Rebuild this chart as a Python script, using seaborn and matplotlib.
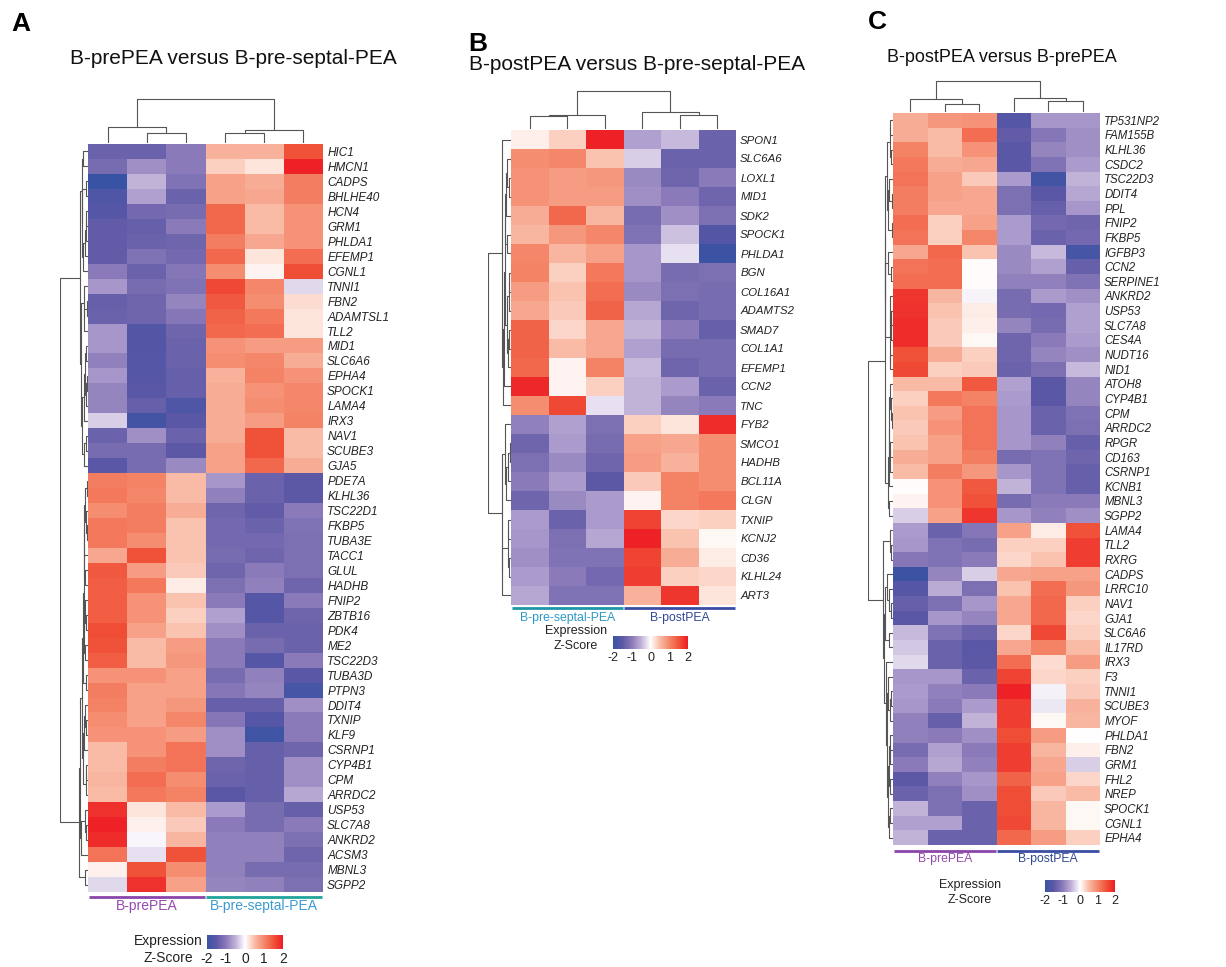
import numpy as np
import pandas as pd
import matplotlib
matplotlib.use("Agg")
import matplotlib.pyplot as plt
import matplotlib.transforms as mtransforms
from matplotlib.colors import LinearSegmentedColormap, Normalize
from matplotlib.cm import ScalarMappable
import seaborn as sns

sns.set_theme(style="white")
plt.rcParams['font.family'] = ['Liberation Sans', 'DejaVu Sans']
plt.rcParams['axes.unicode_minus'] = False

# ---------------- data ----------------
A_genes = ["HIC1", "HMCN1", "CADPS", "BHLHE40", "HCN4", "GRM1", "PHLDA1", "EFEMP1", "CGNL1",
           "TNNI1", "FBN2", "ADAMTSL1", "TLL2", "MID1", "SLC6A6", "EPHA4", "SPOCK1", "LAMA4",
           "IRX3", "NAV1", "SCUBE3", "GJA5", "PDE7A", "KLHL36", "TSC22D1", "FKBP5", "TUBA3E",
           "TACC1", "GLUL", "HADHB", "FNIP2", "ZBTB16", "PDK4", "ME2", "TSC22D3", "TUBA3D",
           "PTPN3", "DDIT4", "TXNIP", "KLF9", "CSRNP1", "CYP4B1", "CPM", "ARRDC2", "USP53",
           "SLC7A8", "ANKRD2", "ACSM3", "MBNL3", "SGPP2"]
A_values = [
    [-1.35, -1.35, -1.0, 0.6, 0.6, 1.5],
    [-1.2, -0.8, -1.0, 0.35, 0.2, 1.95],
    [-2.0, -0.5, -1.1, 0.75, 0.65, 1.1],
    [-1.7, -0.65, -1.35, 0.75, 0.7, 1.1],
    [-1.6, -1.25, -1.2, 1.3, 0.5, 0.9],
    [-1.45, -1.4, -1.0, 1.3, 0.5, 0.9],
    [-1.45, -1.35, -1.3, 1.1, 0.7, 0.9],
    [-1.45, -1.1, -1.25, 1.3, 0.2, 1.25],
    [-1.0, -1.35, -1.05, 0.95, 0.08, 1.55],
    [-0.75, -1.2, -1.1, 1.6, 1.0, -0.25],
    [-1.4, -1.3, -0.9, 1.45, 0.95, 0.25],
    [-1.35, -1.3, -1.05, 1.35, 1.15, 0.2],
    [-0.75, -1.65, -1.3, 1.3, 1.25, 0.2],
    [-0.75, -1.65, -1.35, 0.9, 0.8, 0.8],
    [-0.95, -1.6, -1.35, 0.95, 1.0, 0.65],
    [-0.75, -1.6, -1.4, 0.6, 1.05, 0.9],
    [-0.9, -1.55, -1.4, 0.65, 0.9, 1.0],
    [-0.9, -1.4, -1.7, 0.65, 0.95, 1.0],
    [-0.3, -1.85, -1.55, 0.65, 0.8, 1.05],
    [-1.35, -0.8, -1.35, 0.65, 1.5, 0.5],
    [-1.2, -1.2, -1.5, 0.75, 1.5, 0.5],
    [-1.55, -1.2, -0.85, 0.75, 1.3, 0.65],
    [1.1, 1.05, 0.5, -0.75, -1.35, -1.5],
    [1.15, 1.0, 0.5, -0.95, -1.35, -1.5],
    [0.95, 1.1, 0.65, -1.3, -1.45, -1.0],
    [1.15, 1.1, 0.45, -1.25, -1.35, -1.1],
    [1.15, 0.95, 0.45, -1.25, -1.25, -1.15],
    [0.7, 1.5, 0.45, -1.2, -1.3, -1.15],
    [1.45, 0.8, 0.4, -1.3, -1.0, -1.15],
    [1.4, 1.15, 0.15, -1.15, -0.95, -1.3],
    [1.4, 0.9, 0.45, -1.0, -1.6, -1.0],
    [1.4, 0.9, 0.35, -0.65, -1.6, -1.3],
    [1.55, 0.75, 0.45, -0.8, -1.35, -1.35],
    [1.5, 0.5, 0.8, -1.0, -1.2, -1.35],
    [1.4, 0.5, 0.85, -1.0, -1.6, -1.0],
    [0.9, 0.9, 0.75, -1.2, -0.95, -1.55],
    [1.1, 0.75, 0.75, -1.05, -0.9, -1.8],
    [1.05, 0.75, 0.85, -1.4, -1.4, -0.8],
    [0.95, 0.75, 1.0, -1.05, -1.6, -1.0],
    [0.9, 0.9, 0.8, -0.8, -1.9, -1.0],
    [0.5, 0.9, 1.2, -0.8, -1.4, -1.3],
    [0.5, 1.1, 1.2, -1.3, -1.4, -0.8],
    [0.55, 1.25, 0.95, -1.35, -1.4, -0.8],
    [0.5, 1.15, 1.05, -1.55, -1.4, -0.6],
    [1.8, 0.2, 0.5, -0.7, -1.2, -1.4],
    [1.95, 0.1, 0.4, -1.0, -1.2, -1.0],
    [1.85, -0.05, 0.55, -0.95, -0.95, -1.15],
    [1.2, -0.2, 1.5, -0.95, -0.95, -1.3],
    [0.1, 1.5, 0.95, -0.95, -1.2, -1.2],
    [-0.25, 1.8, 0.75, -0.9, -0.95, -1.15],
]

B_genes = ["SPON1", "SLC6A6", "LOXL1", "MID1", "SDK2", "SPOCK1", "PHLDA1", "BGN", "COL16A1",
           "ADAMTS2", "SMAD7", "COL1A1", "EFEMP1", "CCN2", "TNC", "FYB2", "SMCO1", "HADHB",
           "BCL11A", "CLGN", "TXNIP", "KCNJ2", "CD36", "KLHL24", "ART3"]
B_values = [
    [0.12, 0.35, 1.95, -0.65, -0.45, -1.35],
    [0.95, 1.0, 0.45, -0.3, -1.35, -1.35],
    [0.9, 0.8, 0.85, -0.85, -1.3, -1.0],
    [0.9, 0.8, 0.8, -0.8, -1.0, -1.3],
    [0.65, 1.3, 0.55, -1.2, -0.8, -1.15],
    [0.55, 0.85, 1.0, -1.1, -0.4, -1.65],
    [1.0, 0.55, 0.75, -0.75, -0.2, -1.95],
    [1.05, 0.35, 1.15, -0.75, -1.2, -1.15],
    [0.8, 0.45, 1.25, -0.85, -1.15, -1.2],
    [0.7, 0.4, 1.35, -0.6, -1.3, -1.2],
    [1.35, 0.3, 0.7, -0.5, -1.0, -1.4],
    [1.35, 0.5, 0.7, -0.65, -1.2, -1.2],
    [1.3, 0.08, 1.05, -0.45, -1.3, -1.2],
    [1.9, 0.08, 0.35, -0.5, -0.7, -1.35],
    [0.95, 1.6, -0.2, -0.5, -0.9, -1.0],
    [-0.95, -0.65, -1.15, 0.35, 0.2, 1.85],
    [-1.3, -0.7, -1.2, 0.75, 0.7, 0.95],
    [-1.15, -0.85, -1.3, 0.8, 0.6, 0.95],
    [-1.0, -0.7, -1.5, 0.4, 1.05, 0.95],
    [-1.3, -0.85, -0.7, 0.08, 1.05, 1.15],
    [-0.7, -1.35, -0.7, 1.65, 0.3, 0.35],
    [-0.75, -1.15, -0.6, 1.95, 0.45, 0.05],
    [-0.8, -1.1, -1.1, 1.65, 0.65, 0.15],
    [-0.7, -1.0, -1.25, 1.7, 0.35, 0.3],
    [-0.6, -1.1, -1.1, 0.6, 1.75, 0.2],
]

C_genes = ["TP531NP2", "FAM155B", "KLHL36", "CSDC2", "TSC22D3", "DDIT4", "PPL", "FNIP2", "FKBP5",
           "IGFBP3", "CCN2", "SERPINE1", "ANKRD2", "USP53", "SLC7A8", "CES4A", "NUDT16", "NID1",
           "ATOH8", "CYP4B1", "CPM", "ARRDC2", "RPGR", "CD163", "CSRNP1", "KCNB1", "MBNL3", "SGPP2",
           "LAMA4", "TLL2", "RXRG", "CADPS", "LRRC10", "NAV1", "GJA1", "SLC6A6", "IL17RD", "IRX3",
           "F3", "TNNI1", "SCUBE3", "MYOF", "PHLDA1", "FBN2", "GRM1", "FHL2", "NREP", "SPOCK1",
           "CGNL1", "EPHA4"]
C_values = [
    [0.65, 0.85, 0.9, -1.6, -0.75, -0.75],
    [0.65, 0.5, 1.25, -1.45, -1.05, -0.8],
    [1.05, 0.5, 0.9, -1.55, -0.9, -0.8],
    [1.15, 0.65, 0.7, -1.55, -1.1, -0.7],
    [1.2, 0.75, 0.4, -0.7, -1.85, -0.5],
    [1.1, 0.75, 0.7, -1.15, -1.55, -0.6],
    [1.1, 0.7, 0.7, -1.15, -1.4, -0.75],
    [1.25, 0.35, 0.75, -0.7, -1.25, -1.3],
    [1.2, 0.35, 1.0, -0.7, -1.35, -1.25],
    [0.7, 1.3, 0.45, -0.85, -0.45, -1.8],
    [1.2, 1.25, 0.03, -0.85, -0.65, -1.4],
    [1.25, 1.25, 0.02, -0.95, -0.95, -1.1],
    [1.75, 0.55, -0.07, -1.2, -0.7, -0.8],
    [1.8, 0.45, 0.15, -1.2, -1.25, -0.65],
    [1.85, 0.4, 0.12, -0.9, -1.2, -0.65],
    [1.85, 0.4, 0.05, -1.3, -1.0, -0.7],
    [1.5, 0.65, 0.35, -1.3, -0.9, -0.8],
    [1.6, 0.35, 0.4, -1.35, -1.15, -0.45],
    [0.5, 0.5, 1.45, -0.65, -1.55, -0.9],
    [0.35, 1.15, 1.05, -0.7, -1.55, -0.9],
    [0.45, 0.8, 1.2, -0.75, -1.35, -1.1],
    [0.4, 0.9, 1.2, -0.75, -1.35, -1.15],
    [0.45, 0.75, 1.2, -0.75, -0.95, -1.4],
    [0.65, 0.75, 1.1, -1.2, -1.1, -1.3],
    [0.5, 1.1, 0.85, -0.75, -1.1, -1.4],
    [0.03, 0.9, 1.45, -0.5, -1.1, -1.4],
    [0.08, 0.9, 1.5, -1.2, -1.0, -1.0],
    [-0.3, 0.75, 1.75, -0.75, -0.95, -0.8],
    [-0.7, -1.35, -1.05, 0.75, 0.15, 1.5],
    [-0.75, -1.1, -1.2, 0.35, 0.35, 1.7],
    [-1.05, -1.1, -1.0, 0.3, 0.45, 1.7],
    [-1.95, -0.9, -0.3, 0.7, 0.75, 0.75],
    [-1.6, -0.55, -1.15, 0.45, 1.25, 0.85],
    [-1.4, -1.15, -0.75, 0.7, 1.3, 0.35],
    [-1.55, -0.75, -0.9, 0.7, 1.3, 0.3],
    [-0.45, -1.1, -1.35, 0.3, 1.6, 0.35],
    [-0.35, -1.35, -1.55, 0.7, 1.05, 0.5],
    [-0.25, -1.35, -1.5, 1.25, 0.25, 0.8],
    [-0.75, -0.75, -1.35, 1.65, 0.3, 0.35],
    [-0.7, -0.95, -1.0, 1.95, -0.08, 0.4],
    [-0.75, -1.0, -0.7, 1.7, -0.15, 0.6],
    [-0.95, -1.4, -0.5, 1.7, 0.05, 0.55],
    [-0.95, -1.0, -0.8, 1.55, 0.8, 0.0],
    [-1.2, -0.65, -1.0, 1.7, 0.55, 0.12],
    [-1.0, -0.6, -0.95, 1.7, 0.7, -0.3],
    [-1.5, -0.95, -0.75, 1.35, 0.75, 0.3],
    [-1.35, -1.15, -0.8, 1.55, 0.4, 0.5],
    [-0.5, -1.15, -1.35, 1.55, 0.55, 0.05],
    [-0.65, -0.65, -1.35, 1.6, 0.55, 0.05],
    [-0.5, -1.35, -1.35, 1.3, 0.8, 0.35],
]

A_groups = ["B-prePEA", "B-pre-septal-PEA"]
B_groups = ["B-pre-septal-PEA", "B-postPEA"]
C_groups = ["B-prePEA", "B-postPEA"]
A_title = "B-prePEA versus B-pre-septal-PEA"
B_title = "B-postPEA versus B-pre-septal-PEA"
C_title = "B-postPEA versus B-prePEA"
cbar_ticks = [-2, -1, 0, 1, 2]

# ---------------- style ----------------
cmap = LinearSegmentedColormap.from_list(
    "zs", [(0.0, "#3953A4"), (0.125, "#5D58A6"), (0.25, "#8A7AB9"), (0.375, "#C0B1D8"),
           (0.5, "#FFFFFF"), (0.625, "#F9BCA7"), (0.75, "#F4886B"), (0.875, "#F0543A"),
           (1.0, "#ED1C24")])
norm = Normalize(vmin=-2, vmax=2)

W, H = 1226, 967
fig = plt.figure(figsize=(W / 100, H / 100), dpi=100)


def box(x0, y0, x1, y1):
    return [x0 / W, 1 - y1 / H, (x1 - x0) / W, (y1 - y0) / H]


def contiguous_linkage(X):
    """Average-linkage agglomeration restricted to neighbouring clusters (keeps order)."""
    X = np.asarray(X, float)
    n = len(X)
    D = np.sqrt(((X[:, None, :] - X[None, :, :]) ** 2).sum(-1))
    members = [[i] for i in range(n)]
    pos = [i + 0.5 for i in range(n)]
    hts = [0.0] * n
    merges = []
    while len(members) > 1:
        best = None
        for k in range(len(members) - 1):
            d = D[np.ix_(members[k], members[k + 1])].mean()
            if best is None or d < best[0]:
                best = (d, k)
        d, k = best
        h = max(d, hts[k], hts[k + 1])
        merges.append((pos[k], hts[k], pos[k + 1], hts[k + 1], h))
        members[k] = members[k] + members[k + 1]
        del members[k + 1]
        pos[k] = (pos[k] + pos[k + 1]) / 2
        del pos[k + 1]
        hts[k] = h
        del hts[k + 1]
    return merges


DCOL = "#555555"


def draw_panel(genes, values, groups, bar_cols, txt_cols, hm, rd, cd, title, title_xy,
               title_size, letter, letter_xy, cb, expr_xy, gsize, grp_size, cb_size,
               bar_off, lab_off):
    cols = [f"{groups[0]} {i+1}" for i in range(3)] + [f"{groups[1]} {i+1}" for i in range(3)]
    df = pd.DataFrame(values, index=genes, columns=cols)
    n = len(genes)

    ax = fig.add_axes(box(*hm))
    sns.heatmap(df, ax=ax, cmap=cmap, norm=norm, cbar=False, xticklabels=False,
                yticklabels=genes, linewidths=0)
    ax.yaxis.tick_right()
    ax.tick_params(axis="y", length=0, pad=3, labelsize=gsize, rotation=0)
    for t in ax.get_yticklabels():
        t.set_fontstyle("italic")
        t.set_color("#222222")
    ax.set_xlabel("")
    ax.set_ylabel("")

    # row dendrogram
    axr = fig.add_axes(box(*rd))
    rm = contiguous_linkage(df.values)
    for p1, h1, p2, h2, h in rm:
        axr.plot([h1, h, h, h2], [p1, p1, p2, p2], color=DCOL, lw=0.8)
    axr.set_ylim(n, 0)
    axr.set_xlim(rm[-1][4] * 1.01, 0)
    axr.axis("off")

    # column dendrogram
    axc = fig.add_axes(box(*cd))
    cm_ = contiguous_linkage(df.values.T)
    for p1, h1, p2, h2, h in cm_:
        axc.plot([p1, p1, p2, p2], [h1, h, h, h2], color=DCOL, lw=0.8)
    axc.set_xlim(0, 6)
    axc.set_ylim(0, cm_[-1][4] * 1.02)
    axc.axis("off")

    # group bars and labels
    hpx = hm[3] - hm[1]
    tr = mtransforms.blended_transform_factory(ax.transData, ax.transAxes)
    for gi in range(2):
        ax.plot([gi * 3 + 0.02, gi * 3 + 2.98], [-bar_off / hpx] * 2, transform=tr,
                color=bar_cols[gi], lw=2, clip_on=False, solid_capstyle="butt")
        ax.text(gi * 3 + 1.5, -lab_off / hpx, groups[gi], transform=tr, ha="center",
                va="center", fontsize=grp_size, color=txt_cols[gi])

    fig.text(title_xy[0] / W, 1 - title_xy[1] / H, title, ha="center", va="center",
             fontsize=title_size, color="#111111")
    fig.text(letter_xy[0] / W, 1 - letter_xy[1] / H, letter, ha="center", va="center",
             fontsize=19, fontweight="bold", color="black")

    cax = fig.add_axes(box(*cb))
    cbar = fig.colorbar(ScalarMappable(norm=norm, cmap=cmap), cax=cax,
                        orientation="horizontal", ticks=cbar_ticks)
    cbar.outline.set_visible(False)
    cax.tick_params(length=0, labelsize=cb_size, pad=2, colors="#222222")
    fig.text(expr_xy[0] / W, 1 - expr_xy[1] / H, "Expression", ha="center", va="center",
             fontsize=cb_size, color="#222222")
    fig.text(expr_xy[0] / W, 1 - (expr_xy[1] + cb_size * 1.65) / H, "Z-Score", ha="center",
             va="center", fontsize=cb_size, color="#222222")


PURPLE_BAR, PURPLE_TXT = "#8B45A8", "#9549B0"
TEAL_BAR, TEAL_TXT = "#1FA39A", "#3D9BD3"
BLUE_BAR, BLUE_TXT = "#3A4DA3", "#2F4896"

draw_panel(A_genes, A_values, A_groups, [PURPLE_BAR, TEAL_BAR], [PURPLE_TXT, TEAL_TXT],
           hm=(88, 144, 323, 892), rd=(60, 144, 88, 892), cd=(88, 98, 323, 143),
           title=A_title, title_xy=(233, 58), title_size=15, letter="A", letter_xy=(21, 24),
           cb=(207, 935, 283, 949), expr_xy=(168, 941), gsize=8.5, grp_size=10, cb_size=10,
           bar_off=5, lab_off=14)

draw_panel(B_genes, B_values, B_groups, ["#1E96A8", BLUE_BAR], ["#2A9AC8", BLUE_TXT],
           hm=(511, 130, 736, 605), rd=(488, 130, 511, 605), cd=(511, 90, 736, 129),
           title=B_title, title_xy=(637, 65), title_size=15, letter="B", letter_xy=(478, 44),
           cb=(613, 636, 688, 649), expr_xy=(576, 631), gsize=8.2, grp_size=8.8, cb_size=9,
           bar_off=3, lab_off=13)

draw_panel(C_genes, C_values, C_groups, [PURPLE_BAR, BLUE_BAR], [PURPLE_TXT, BLUE_TXT],
           hm=(893, 113, 1100, 845), rd=(868, 113, 893, 845), cd=(893, 80, 1100, 112),
           title=C_title, title_xy=(1002, 57), title_size=13, letter="C", letter_xy=(877, 22),
           cb=(1045, 880, 1115, 892), expr_xy=(970, 885), gsize=8.3, grp_size=8.8, cb_size=9,
           bar_off=6, lab_off=14)

fig.savefig("out.png", dpi=100, facecolor="white")
